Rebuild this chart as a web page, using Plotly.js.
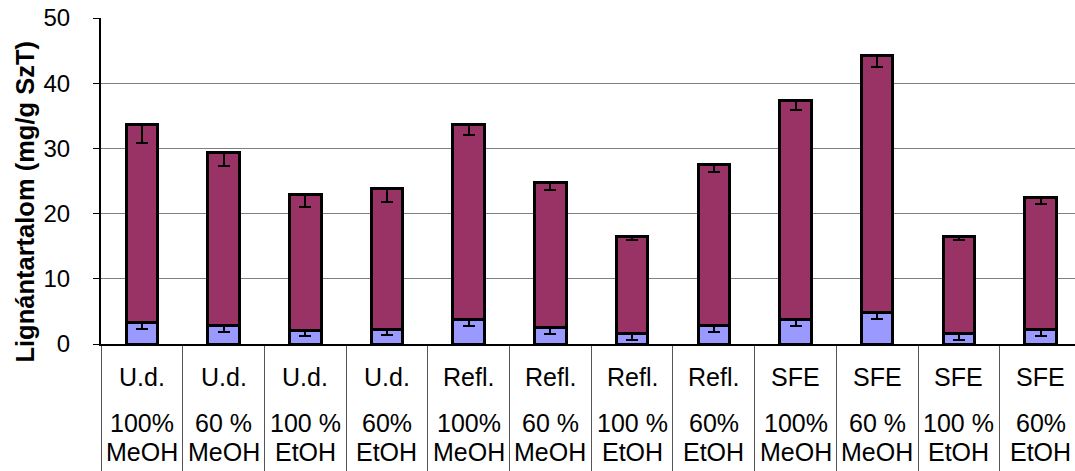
<!DOCTYPE html>
<html>
<head>
<meta charset="utf-8">
<script src="https://cdn.plot.ly/plotly-3.0.1.min.js"></script>
<style>
html,body{margin:0;padding:0;overflow:hidden;background:#fff;}
#chart{width:1075px;height:471px;}
</style>
</head>
<body>
<div id="chart"></div>
<script>
// Category label rows
const methods = ['U.d.','U.d.','U.d.','U.d.','Refl.','Refl.','Refl.','Refl.','SFE','SFE','SFE','SFE'];
const solventPct = ['100%','60 %','100 %','60%','100%','60 %','100 %','60%','100%','60 %','100 %','60%'];
const solventName = ['MeOH','MeOH','EtOH','EtOH','MeOH','MeOH','EtOH','EtOH','MeOH','MeOH','EtOH','EtOH'];
const categories = methods.map((m,i) => m + ' ' + solventPct[i] + ' ' + solventName[i] + ' #' + i);

// Values (mg/g SzT)
const lowerValues = [3.3, 2.9, 2.1, 2.3, 3.7, 2.6, 1.6, 2.8, 3.7, 4.8, 1.6, 2.2];
const lowerErrors = [1.0, 1.0, 0.9, 0.9, 0.9, 1.0, 1.0, 1.0, 0.9, 1.0, 1.0, 0.9];
const upperValues = [30.4, 26.5, 20.9, 21.5, 30.0, 22.2, 14.9, 24.8, 33.7, 39.5, 14.9, 20.2];
const upperErrors = [2.9, 2.15, 2.0, 2.0, 1.65, 1.2, 0.6, 1.2, 1.5, 1.85, 0.6, 0.9];

const yTitle = 'Lignántartalom (mg/g SzT)';
const FONT = '"Liberation Sans", Arial, sans-serif';

const zeros = lowerValues.map(() => 0);

const traceLower = {
  type: 'bar', x: categories, y: lowerValues, width: 0.385,
  marker: {color: '#9999FF', line: {color: '#000', width: 3}},
  error_y: {type: 'data', symmetric: false, array: zeros, arrayminus: lowerErrors,
            color: '#000', thickness: 2, width: 6},
  hoverinfo: 'skip'
};
const traceUpper = {
  type: 'bar', x: categories, y: upperValues, width: 0.385,
  marker: {color: '#993366', line: {color: '#000', width: 3}},
  error_y: {type: 'data', symmetric: false, array: zeros, arrayminus: upperErrors,
            color: '#000', thickness: 2, width: 6},
  hoverinfo: 'skip'
};

const annotations = [];
categories.forEach((c, i) => {
  annotations.push({xref: 'x', yref: 'paper', x: c, y: -0.1, text: methods[i],
    showarrow: false, xanchor: 'center', yanchor: 'middle', font: {family: FONT, size: 25, color: '#000'}});
  annotations.push({xref: 'x', yref: 'paper', x: c, y: -0.242, text: solventPct[i],
    showarrow: false, xanchor: 'center', yanchor: 'middle', font: {family: FONT, size: 25, color: '#000'}});
  annotations.push({xref: 'x', yref: 'paper', x: c, y: -0.331, text: solventName[i],
    showarrow: false, xanchor: 'center', yanchor: 'middle', font: {family: FONT, size: 25, color: '#000'}});
});
annotations.push({xref: 'paper', yref: 'paper', x: -0.079, y: 0.437, text: '<b>' + yTitle + '</b>',
  textangle: -90, showarrow: false, xanchor: 'center', yanchor: 'middle',
  font: {family: FONT, size: 25.5, color: '#000'}});

const layout = {
  width: 1075, height: 471,
  margin: {l: 101, r: 0, t: 18, b: 127, pad: 0},
  paper_bgcolor: '#fff', plot_bgcolor: '#fff',
  barmode: 'stack', showlegend: false,
  font: {family: FONT, size: 24, color: '#000'},
  xaxis: {
    type: 'category', range: [-0.5, 11.42],
    showticklabels: false, ticks: 'outside', tickson: 'boundaries',
    ticklen: 127, tickwidth: 1, tickcolor: '#555',
    showline: true, linecolor: '#000', linewidth: 2,
    showgrid: false, zeroline: false, fixedrange: true
  },
  yaxis: {
    range: [0, 50], dtick: 10, tick0: 0,
    ticks: 'outside', ticklen: 6, tickwidth: 1, tickcolor: '#000',
    showline: true, linecolor: '#000', linewidth: 2,
    showgrid: true, gridcolor: '#808080', gridwidth: 1,
    zeroline: false, ticklabelstandoff: 18,
    tickfont: {family: FONT, size: 24, color: '#000'}, fixedrange: true
  },
  annotations: annotations
};

Plotly.newPlot('chart', [traceLower, traceUpper], layout, {displayModeBar: false, staticPlot: true});
</script>
</body>
</html>
